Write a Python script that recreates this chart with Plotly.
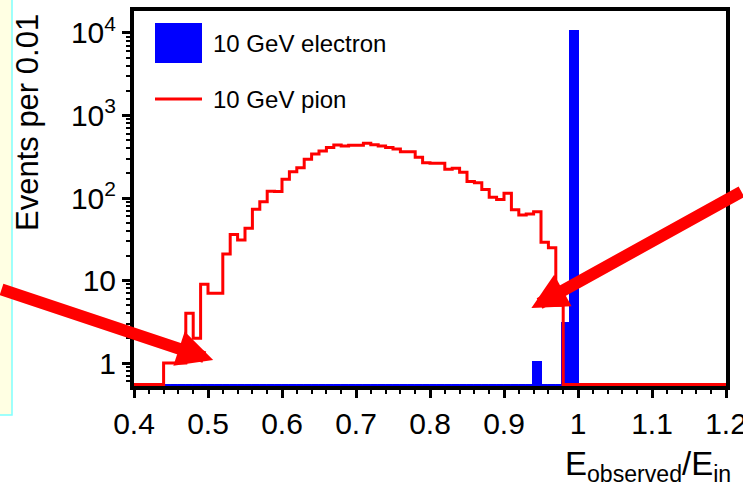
import numpy as np
import plotly.graph_objects as go

# ---------------- data ----------------
bin_width = 0.01
bin_low_edges = np.round(np.arange(0.40, 1.20 - 1e-9, bin_width), 2)   # 80 bins 0.40 .. 1.19

pion_counts = [
    0, 0, 0, 0, 1, 1, 1, 4, 2, 9,                 # 0.40-0.49
    7, 7, 21, 36, 31, 43, 73, 90, 121, 120,       # 0.50-0.59
    169, 208, 233, 294, 341, 371, 408, 439, 427, 435,   # 0.60-0.69
    435, 460, 443, 427, 408, 393, 364, 364, 311, 268,   # 0.70-0.79
    264, 264, 223, 229, 205, 158, 153, 127, 102, 96,    # 0.80-0.89
    114, 72, 62, 64, 68, 29, 25, 5, 0, 0,               # 0.90-0.99
    0, 0, 0, 0, 0, 0, 0, 0, 0, 0,                       # 1.00-1.09
    0, 0, 0, 0, 0, 0, 0, 0, 0, 0,                       # 1.10-1.19
]
electron_counts = [0] * 80
electron_counts[54] = 1       # 0.94
electron_counts[58] = 3       # 0.98
electron_counts[59] = 10200   # 0.99

y_tick_values = [1, 10, 100, 1000, 10000]
y_tick_text = ["1", "10", "10<sup>2</sup>", "10<sup>3</sup>", "10<sup>4</sup>"]

series_names = ["10 GeV electron", "10 GeV pion"]
y_title = "Events per 0.01"
x_title = "E<sub>observed</sub>/E<sub>in</sub>"

# ---------------- styling / layout helpers ----------------
FONT = "Arial"
W, H = 743, 487
L, R, T, B = 134, 726, 11, 386
FLOOR = 10 ** (-0.262)          # empty bins drawn just above the x axis (log scale)


def px_x(px):
    return (px - L) / (R - L)


def px_y(py):
    return (B - py) / (B - T)


edges = np.append(bin_low_edges, bin_low_edges[-1] + bin_width)
centers = bin_low_edges + bin_width / 2

pion_plot = [c if c > 0 else FLOOR for c in pion_counts]
pion_plot = pion_plot + [pion_plot[-1]]
elec_plot = [c if c > 0 else FLOOR for c in electron_counts]
elec_outline = [3 if c > 0 else 1 for c in electron_counts]

fig = go.Figure()
fig.add_trace(go.Bar(
    x=centers, y=elec_plot, width=bin_width, name=series_names[0],
    marker=dict(color="#0000FF", line=dict(color="#0000FF", width=elec_outline)),
    showlegend=False,
))
fig.add_trace(go.Scatter(
    x=edges, y=pion_plot, mode="lines", line_shape="hv", name=series_names[1],
    line=dict(color="#FF0000", width=3), showlegend=False,
))

minor_y = [m * 10 ** d for d in range(-1, 5) for m in range(2, 10)]

fig.update_layout(
    width=W, height=H,
    margin=dict(l=L, r=W - R, t=T, b=H - B, pad=0, autoexpand=False),
    paper_bgcolor="white", plot_bgcolor="white",
    font=dict(family=FONT, color="black"),
    bargap=0,
    xaxis=dict(
        range=[0.4, 1.2], tick0=0.4, dtick=0.1, automargin=False,
        ticks="outside", ticklen=8, tickwidth=3, tickcolor="black",
        showline=True, linewidth=4, linecolor="black", mirror=True,
        showgrid=False, zeroline=False, ticklabeloverflow="allow",
        tickfont=dict(family=FONT, size=30, color="black"),
        minor=dict(dtick=0.02, tick0=0.4, ticks="outside", ticklen=4, tickwidth=2,
                   tickcolor="black", showgrid=False),
    ),
    yaxis=dict(
        type="log", range=[-0.2788, 4.2666], automargin=False,
        tickmode="array", tickvals=y_tick_values, ticktext=y_tick_text,
        ticks="outside", ticklen=8, tickwidth=3, tickcolor="black",
        showline=True, linewidth=4, linecolor="black", mirror=True,
        showgrid=False, zeroline=False, ticklabeloverflow="allow",
        tickfont=dict(family=FONT, size=30, color="black"),
        minor=dict(tickmode="array", tickvals=minor_y, ticks="outside", ticklen=4,
                   tickwidth=2, tickcolor="black", showgrid=False),
    ),
    showlegend=False,
)

shapes = [
    # light yellow side panel at the far left
    dict(type="rect", xref="paper", yref="paper",
         x0=px_x(-6), x1=px_x(12), y0=px_y(415), y1=px_y(-6),
         fillcolor="#FFFFE3", line=dict(color="#7FFFFF", width=1.5)),
    # legend swatches
    dict(type="rect", xref="paper", yref="paper",
         x0=px_x(155), x1=px_x(202), y0=px_y(63), y1=px_y(23),
         fillcolor="#0000FF", line=dict(width=0)),
    dict(type="line", xref="paper", yref="paper",
         x0=px_x(155), x1=px_x(202), y0=px_y(99), y1=px_y(99),
         line=dict(color="#FF0000", width=3)),
]

annotations = [
    dict(text=series_names[0], xref="paper", yref="paper", x=px_x(211), y=px_y(43),
         xanchor="left", yanchor="middle", showarrow=False,
         font=dict(family=FONT, size=24, color="black")),
    dict(text=series_names[1], xref="paper", yref="paper", x=px_x(211), y=px_y(99),
         xanchor="left", yanchor="middle", showarrow=False,
         font=dict(family=FONT, size=24, color="black")),
    dict(text=y_title, xref="paper", yref="paper", x=px_x(27), y=px_y(122),
         xanchor="center", yanchor="middle", textangle=-90, showarrow=False,
         font=dict(family=FONT, size=31, color="black")),
    dict(text=x_title, xref="paper", yref="paper", x=px_x(733), y=px_y(466),
         xanchor="right", yanchor="middle", showarrow=False,
         font=dict(family=FONT, size=33, color="black")),
    # thick red arrows
    dict(text="", x=0.507, y=0.036, xref="x", yref="y", ax=-222, ay=-71,
         showarrow=True, arrowhead=2, arrowsize=0.6, arrowwidth=12, arrowcolor="#FF0000"),
    dict(text="", x=0.937, y=0.667, xref="x", yref="y", ax=222, ay=-117,
         showarrow=True, arrowhead=2, arrowsize=0.6, arrowwidth=12, arrowcolor="#FF0000"),
]

fig.update_layout(shapes=shapes, annotations=annotations)
fig.write_html("out.html")
